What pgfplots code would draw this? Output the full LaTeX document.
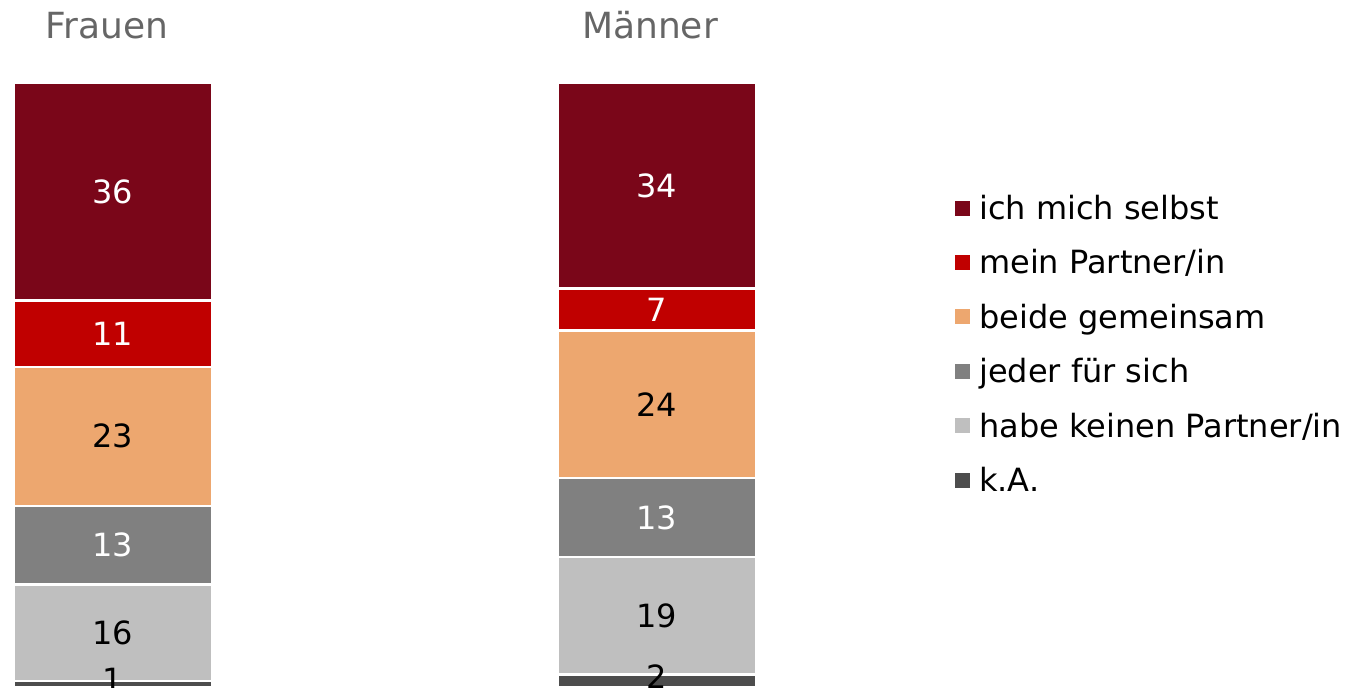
\documentclass[border=0pt]{standalone}
\usepackage{pgfplots}
\pgfplotsset{compat=1.18}
\usepackage{fontspec}
\setmainfont{DejaVu Sans}
\definecolor{cSelbst}{HTML}{7A0619}
\definecolor{cPartner}{HTML}{C00000}
\definecolor{cBeide}{HTML}{EDA76F}
\definecolor{cJeder}{HTML}{808080}
\definecolor{cKein}{HTML}{BFBFBF}
\definecolor{cKA}{HTML}{4D4D4D}
\definecolor{cTitle}{HTML}{666666}
\begin{document}
\begin{tikzpicture}[x=1pt,y=1pt]
\useasboundingbox (0,0) rectangle (681,343.5);
\begin{axis}[
  at={(0,0)}, anchor=south west,
  scale only axis, width=681pt, height=302pt,
  xmin=0, xmax=1362, ymin=0, ymax=100,
  hide axis, clip=false,
  ybar stacked, bar width=99pt,
  visualization depends on=rawy \as \rawy,
  nodes near coords={\pgfmathprintnumber[fixed,precision=0,assume math mode=true]{\rawy}},
  every node near coord/.append style={font=\fontsize{16}{19}\selectfont,
    anchor=center, inner sep=0pt},
  legend image code/.code={\fill[#1,draw=none] (0pt,-2pt) rectangle (7.5pt,5.5pt);
    \path (11.5pt,0pt);},
  reverse legend,
  legend cell align=left,
  legend style={draw=none, fill=none, inner sep=0pt, outer sep=0pt,
    at={(axis description cs:0.7012,0.562)}, anchor=west,
    font=\fontsize{16}{19}\selectfont, row sep=12.2pt,
    nodes={inner sep=0pt, text height=11.5pt, text depth=3.5pt}},
]
\addplot[fill=cKA, draw=white, line width=1.2pt,
  every node near coord/.append style={text=black, yshift=2pt}]
  coordinates {(113,1) (657,2.1)};
\addplot[fill=cKein, draw=white, line width=1.2pt,
  every node near coord/.append style={text=black}]
  coordinates {(113,16) (657,19.4)};
\addplot[fill=cJeder, draw=white, line width=1.2pt,
  every node near coord/.append style={text=white}]
  coordinates {(113,13) (657,13.1)};
\addplot[fill=cBeide, draw=white, line width=1.2pt,
  every node near coord/.append style={text=black}]
  coordinates {(113,23) (657,24.4)};
\addplot[fill=cPartner, draw=white, line width=1.2pt,
  every node near coord/.append style={text=white}]
  coordinates {(113,11) (657,7.0)};
\addplot[fill=cSelbst, draw=white, line width=1.2pt,
  every node near coord/.append style={text=white}]
  coordinates {(113,36) (657,34.0)};
\legend{k.A., habe keinen Partner/in, jeder für sich, beide gemeinsam,
  mein Partner/in, ich mich selbst}
\end{axis}
\node[anchor=base, text=cTitle, font=\fontsize{18}{21}\selectfont, inner sep=0pt]
  at (53.5,324) {Frauen};
\node[anchor=base, text=cTitle, font=\fontsize{18}{21}\selectfont, inner sep=0pt]
  at (325,324) {Männer};
\end{tikzpicture}
\end{document}
